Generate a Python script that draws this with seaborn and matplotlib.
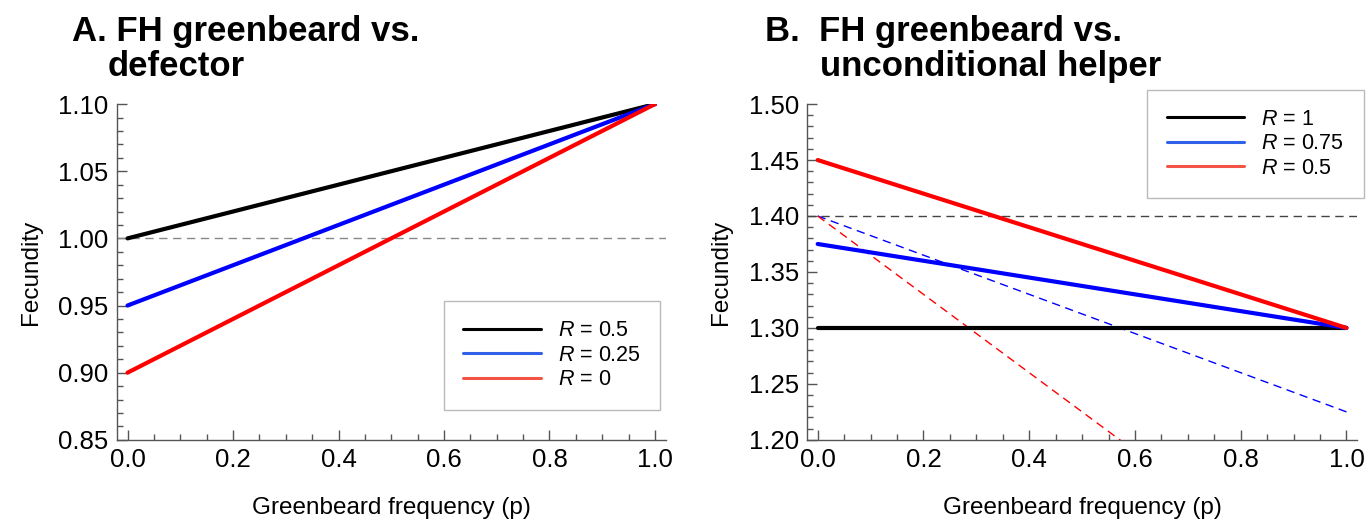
import numpy as np
import pandas as pd
import seaborn as sns
import matplotlib.pyplot as plt
from matplotlib.lines import Line2D
from matplotlib.ticker import MultipleLocator

# data: straight lines given by their values at p = 0 and p = 1
p_ends = [0.0, 1.0]

a_labels = ['0.5', '0.25', '0']
a_start = [1.0, 0.95, 0.9]
a_end = [1.1, 1.1, 1.1]
a_ref = 1.0

b_labels = ['1', '0.75', '0.5']
b_start = [1.3, 1.375, 1.45]
b_end = [1.3, 1.3, 1.3]
b_ref = 1.4
b_dash_blue = [1.4, 1.225]
b_dash_red = [1.4, 1.05]

line_cols = ['black', '#0000ff', '#ff0000']
leg_cols = ['black', '#3060e8', '#f25545']

sns.set_style("ticks")
plt.rcParams['font.family'] = ['Liberation Sans', 'DejaVu Sans']
plt.rcParams['mathtext.fontset'] = 'custom'
plt.rcParams['mathtext.it'] = 'Liberation Sans:italic'
plt.rcParams['mathtext.rm'] = 'Liberation Sans'
plt.rcParams['text.color'] = 'black'
plt.rcParams['axes.labelcolor'] = 'black'

fig = plt.figure(figsize=(13.68, 5.23), dpi=100)
axA = fig.add_axes([0.0855, 0.159, 0.401, 0.642])
axB = fig.add_axes([0.590, 0.159, 0.402, 0.642])


def make_df(starts, ends, labels):
    rows = []
    for s, e, l in zip(starts, ends, labels):
        rows.append({'p': p_ends[0], 'f': s, 'R': l})
        rows.append({'p': p_ends[1], 'f': e, 'R': l})
    return pd.DataFrame(rows)


def style_axes(ax, ylo, yhi):
    ax.set_xlim(-0.02, 1.02)
    ax.set_ylim(ylo, yhi)
    sns.despine(ax=ax)
    for s in ['left', 'bottom']:
        ax.spines[s].set_color('#555555')
        ax.spines[s].set_linewidth(1.0)
    ax.xaxis.set_major_locator(MultipleLocator(0.2))
    ax.xaxis.set_minor_locator(MultipleLocator(0.05))
    ax.yaxis.set_major_locator(MultipleLocator(0.05))
    ax.yaxis.set_minor_locator(MultipleLocator(0.01))
    ax.tick_params(which='both', direction='in', color='#555555', width=1,
                   labelcolor='black')
    ax.tick_params(which='major', length=7, labelsize=18.5, pad=6)
    ax.tick_params(which='minor', length=4)
    ax.xaxis.set_major_formatter(plt.FuncFormatter(lambda v, _: f'{v:.1f}'))
    ax.yaxis.set_major_formatter(plt.FuncFormatter(lambda v, _: f'{v:.2f}'))
    ax.set_xlabel('Greenbeard frequency (p)', fontsize=17.5, labelpad=18)
    ax.set_ylabel('Fecundity', fontsize=17.5, labelpad=12)


def add_legend(ax, labels, **kw):
    handles = [Line2D([], [], color=c, lw=2.2) for c in leg_cols]
    texts = [r'$\it{R}$ = ' + l for l in labels]
    leg = ax.legend(handles, texts, fontsize=15.5, handlelength=3.6,
                    handletextpad=0.8, labelspacing=0.16, borderpad=0.9,
                    borderaxespad=0, fancybox=False, framealpha=1,
                    edgecolor='#bbbbbb', **kw)
    leg.get_frame().set_linewidth(1.0)


# panel A
dfA = make_df(a_start, a_end, a_labels)
axA.axhline(a_ref, color='#888888', lw=1, ls=(0, (6, 4)))
sns.lineplot(data=dfA, x='p', y='f', hue='R', palette=line_cols,
             hue_order=a_labels, lw=3, ax=axA, legend=False)
style_axes(axA, 0.85, 1.10)
add_legend(axA, a_labels, loc='lower right', bbox_to_anchor=(0.99, 0.09))

# panel B
dfB = make_df(b_start, b_end, b_labels)
axB.axhline(b_ref, color='#444444', lw=1, ls=(0, (6, 4)))
sns.lineplot(x=p_ends, y=b_dash_blue, color='#0000ff', lw=1,
             ls=(0, (6, 4)), ax=axB)
sns.lineplot(x=p_ends, y=b_dash_red, color='#ff0000', lw=1,
             ls=(0, (6, 4)), ax=axB)
sns.lineplot(data=dfB, x='p', y='f', hue='R', palette=line_cols,
             hue_order=b_labels, lw=3, ax=axB, legend=False)
style_axes(axB, 1.20, 1.50)
add_legend(axB, b_labels, loc='upper right', bbox_to_anchor=(1.012, 1.043))

# titles
tkw = dict(fontsize=25, fontweight='bold', va='baseline', ha='left')
fig.text(72 / 1368, 1 - 41 / 523, 'A. FH greenbeard vs.', **tkw)
fig.text(108 / 1368, 1 - 76 / 523, 'defector', **tkw)
fig.text(765 / 1368, 1 - 41 / 523, 'B.  FH greenbeard vs.', **tkw)
fig.text(820 / 1368, 1 - 76 / 523, 'unconditional helper', **tkw)

fig.savefig('out.png', dpi=100)
